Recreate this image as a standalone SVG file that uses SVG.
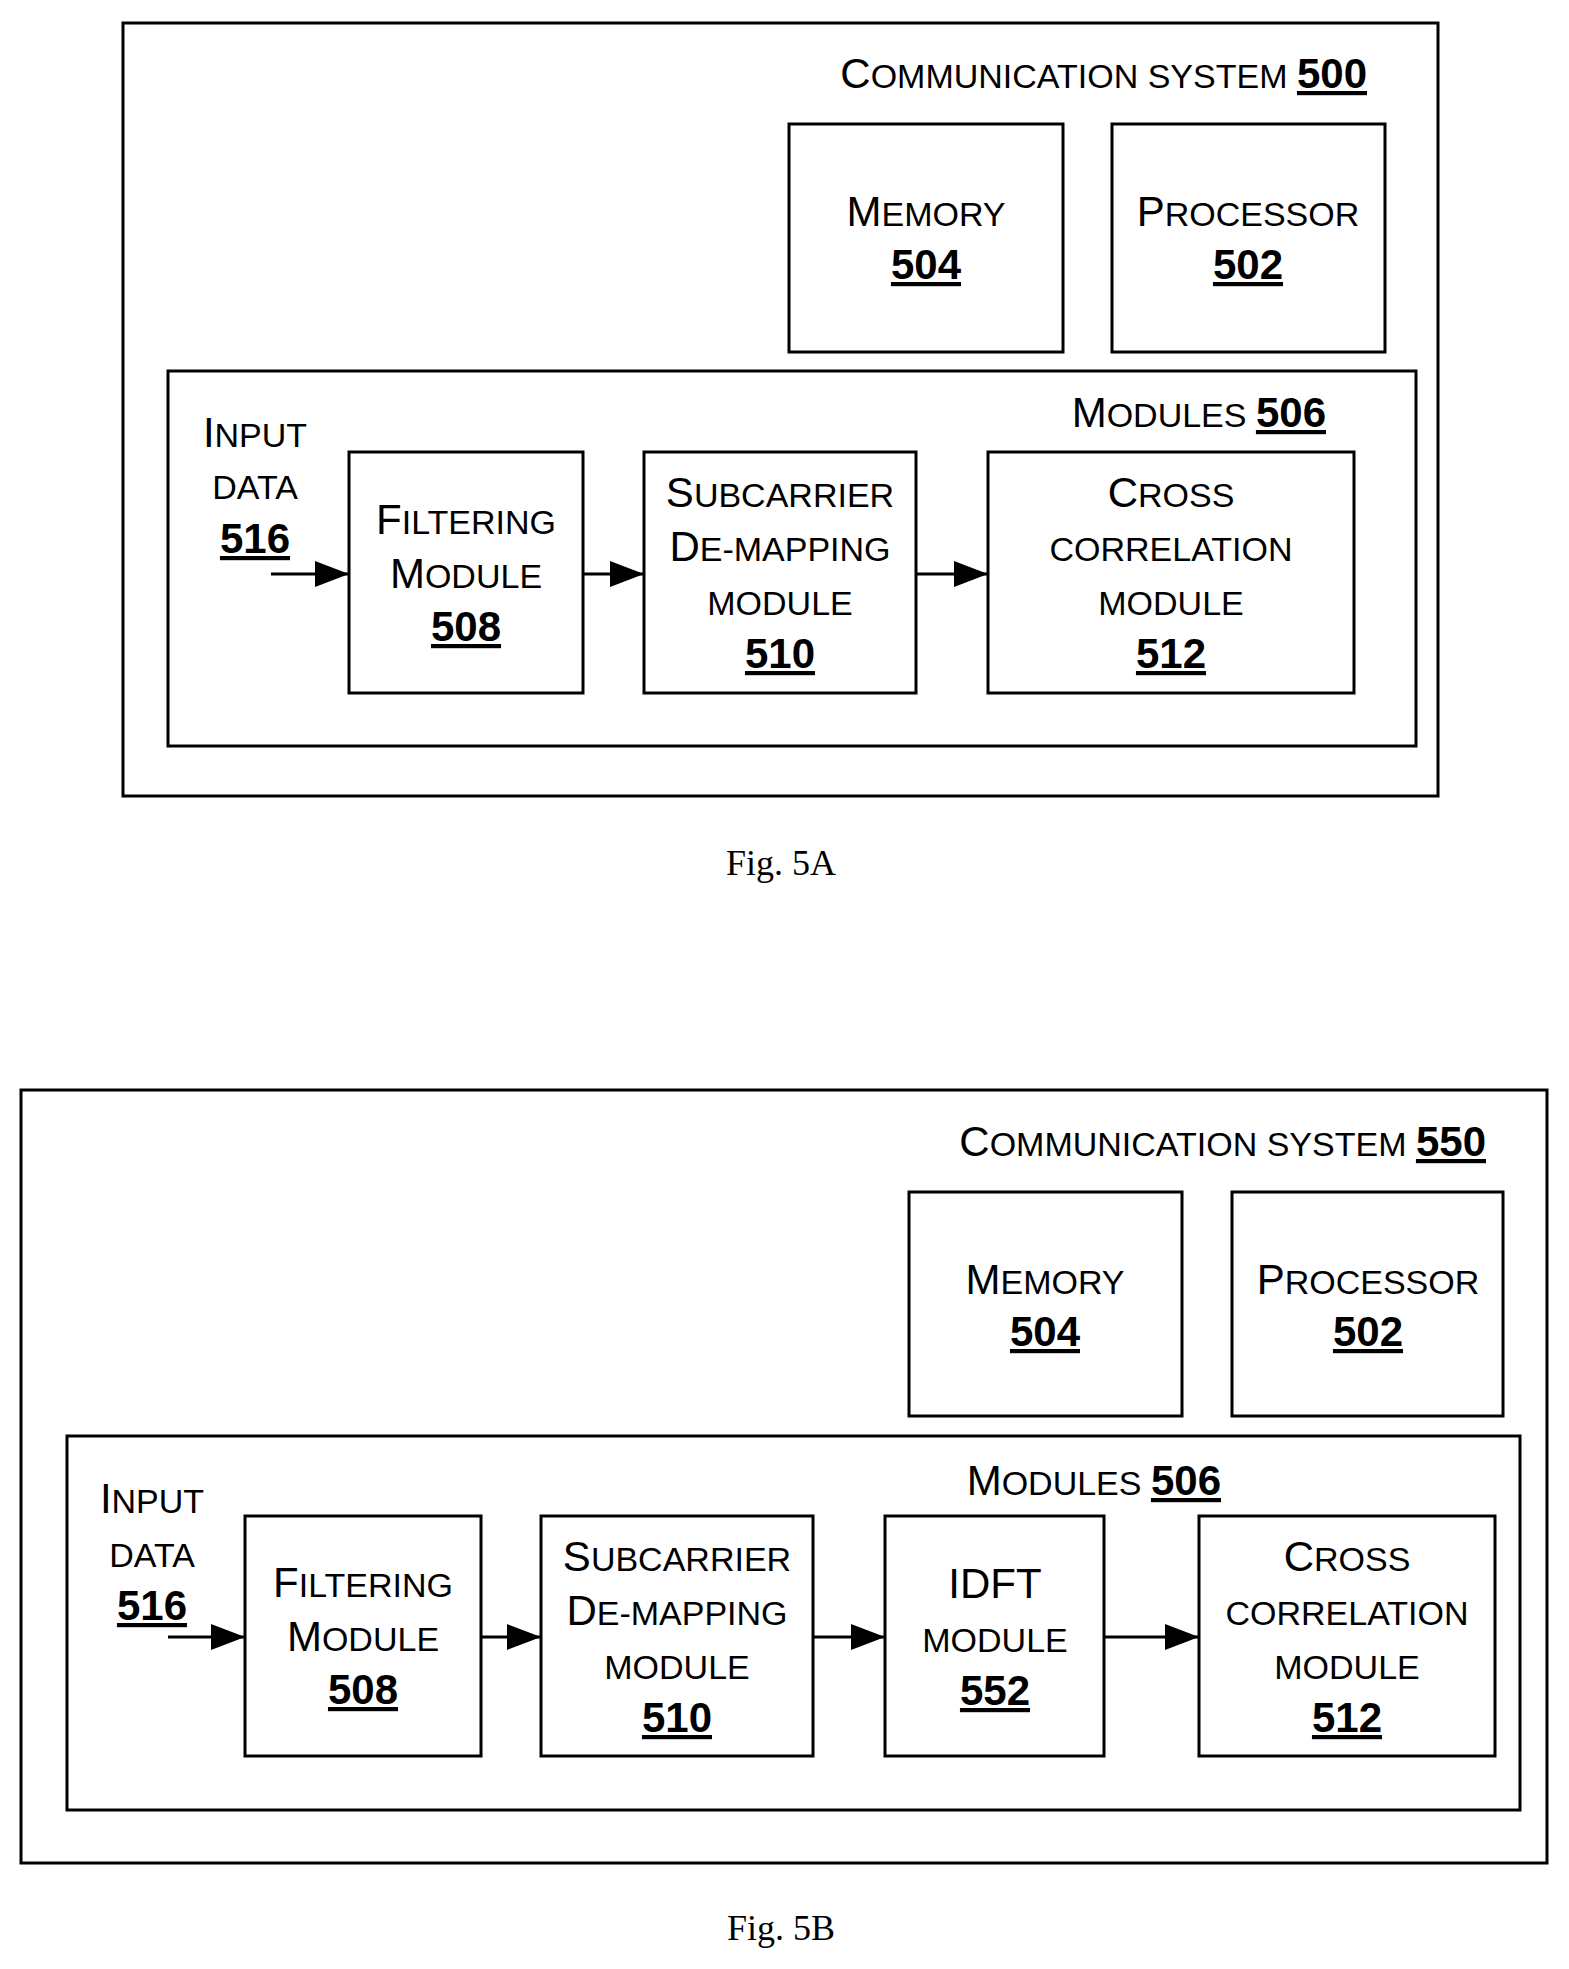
<svg xmlns="http://www.w3.org/2000/svg" width="1569" height="1969" viewBox="0 0 1569 1969">
<style>
rect{fill:none;stroke:#000;stroke-width:3}
text{font-family:"Liberation Sans",Arial,sans-serif;font-size:42px;fill:#000;text-anchor:middle}
.s{font-size:34px}
.n{font-weight:bold;text-decoration:underline;font-size:42px}
.fig{font-family:"Liberation Serif","Times New Roman",serif;font-size:36px}
.c line{stroke:#000;stroke-width:3}
</style>
<defs>
<marker id="b" viewBox="0 0 10 10" refX="10" refY="5" markerWidth="34" markerHeight="26" orient="auto" markerUnits="userSpaceOnUse" preserveAspectRatio="none"><path d="M0,0L10,5L0,10z" fill="#000"/></marker></defs>

<g id="sys500"><rect x="123" y="23" width="1315" height="773"/><text x="1367" y="88" style="text-anchor:end">C<tspan class="s">OMMUNICATION SYSTEM </tspan><tspan class="n">500</tspan></text></g>
<g id="mem504a"><rect x="789" y="124" width="274" height="228"/><text x="926" y="226">M<tspan class="s">EMORY</tspan></text><text x="926" y="279" class="n">504</text></g>
<g id="proc502a"><rect x="1112" y="124" width="273" height="228"/><text x="1248" y="226">P<tspan class="s">ROCESSOR</tspan></text><text x="1248" y="279" class="n">502</text></g>
<g id="mod506a"><rect x="168" y="371" width="1248" height="375"/><text x="1326" y="427" style="text-anchor:end">M<tspan class="s">ODULES </tspan><tspan class="n">506</tspan></text></g>
<g id="in516a"><text x="255" y="447">I<tspan class="s">NPUT</tspan></text><text x="255" y="499" class="s">DATA</text><text x="255" y="553" class="n">516</text></g>
<g id="filt508a"><rect x="349" y="452" width="234" height="241"/><text x="466" y="534">F<tspan class="s">ILTERING</tspan></text><text x="466" y="588">M<tspan class="s">ODULE</tspan></text><text x="466" y="641" class="n">508</text></g>
<g id="sub510a"><rect x="644" y="452" width="272" height="241"/><text x="780" y="507">S<tspan class="s">UBCARRIER</tspan></text><text x="780" y="561">D<tspan class="s">E-MAPPING</tspan></text><text x="780" y="615" class="s">MODULE</text><text x="780" y="668" class="n">510</text></g>
<g id="cc512a"><rect x="988" y="452" width="366" height="241"/><text x="1171" y="507">C<tspan class="s">ROSS</tspan></text><text x="1171" y="561" class="s">CORRELATION</text><text x="1171" y="615" class="s">MODULE</text><text x="1171" y="668" class="n">512</text></g>
<text class="fig" x="781" y="875">Fig. 5A</text>

<g id="sys550"><rect x="21" y="1090" width="1526" height="773"/><text x="1486" y="1156" style="text-anchor:end">C<tspan class="s">OMMUNICATION SYSTEM </tspan><tspan class="n">550</tspan></text></g>
<g id="mem504b"><rect x="909" y="1192" width="273" height="224"/><text x="1045" y="1294">M<tspan class="s">EMORY</tspan></text><text x="1045" y="1346" class="n">504</text></g>
<g id="proc502b"><rect x="1232" y="1192" width="271" height="224"/><text x="1368" y="1294">P<tspan class="s">ROCESSOR</tspan></text><text x="1368" y="1346" class="n">502</text></g>
<g id="mod506b"><rect x="67" y="1436" width="1453" height="374"/><text x="1221" y="1495" style="text-anchor:end">M<tspan class="s">ODULES </tspan><tspan class="n">506</tspan></text></g>
<g id="in516b"><text x="152" y="1513">I<tspan class="s">NPUT</tspan></text><text x="152" y="1567" class="s">DATA</text><text x="152" y="1620" class="n">516</text></g>
<g id="filt508b"><rect x="245" y="1516" width="236" height="240"/><text x="363" y="1597">F<tspan class="s">ILTERING</tspan></text><text x="363" y="1651">M<tspan class="s">ODULE</tspan></text><text x="363" y="1704" class="n">508</text></g>
<g id="sub510b"><rect x="541" y="1516" width="272" height="240"/><text x="677" y="1571">S<tspan class="s">UBCARRIER</tspan></text><text x="677" y="1625">D<tspan class="s">E-MAPPING</tspan></text><text x="677" y="1679" class="s">MODULE</text><text x="677" y="1732" class="n">510</text></g>
<g id="idft552"><rect x="885" y="1516" width="219" height="240"/><text x="995" y="1598">IDFT</text><text x="995" y="1652" class="s">MODULE</text><text x="995" y="1705" class="n">552</text></g>
<g id="cc512b"><rect x="1199" y="1516" width="296" height="240"/><text x="1347" y="1571">C<tspan class="s">ROSS</tspan></text><text x="1347" y="1625" class="s">CORRELATION</text><text x="1347" y="1679" class="s">MODULE</text><text x="1347" y="1732" class="n">512</text></g>
<text class="fig" x="781" y="1940">Fig. 5B</text>

<g class="c" id="connectors">
<line x1="271" y1="574" x2="349" y2="574" marker-end="url(#b)"/>
<line x1="583" y1="574" x2="644" y2="574" marker-end="url(#b)"/>
<line x1="916" y1="574" x2="988" y2="574" marker-end="url(#b)"/>
<line x1="168" y1="1637" x2="245" y2="1637" marker-end="url(#b)"/>
<line x1="481" y1="1637" x2="541" y2="1637" marker-end="url(#b)"/>
<line x1="813" y1="1637" x2="885" y2="1637" marker-end="url(#b)"/>
<line x1="1104" y1="1637" x2="1199" y2="1637" marker-end="url(#b)"/>
</g>
</svg>
